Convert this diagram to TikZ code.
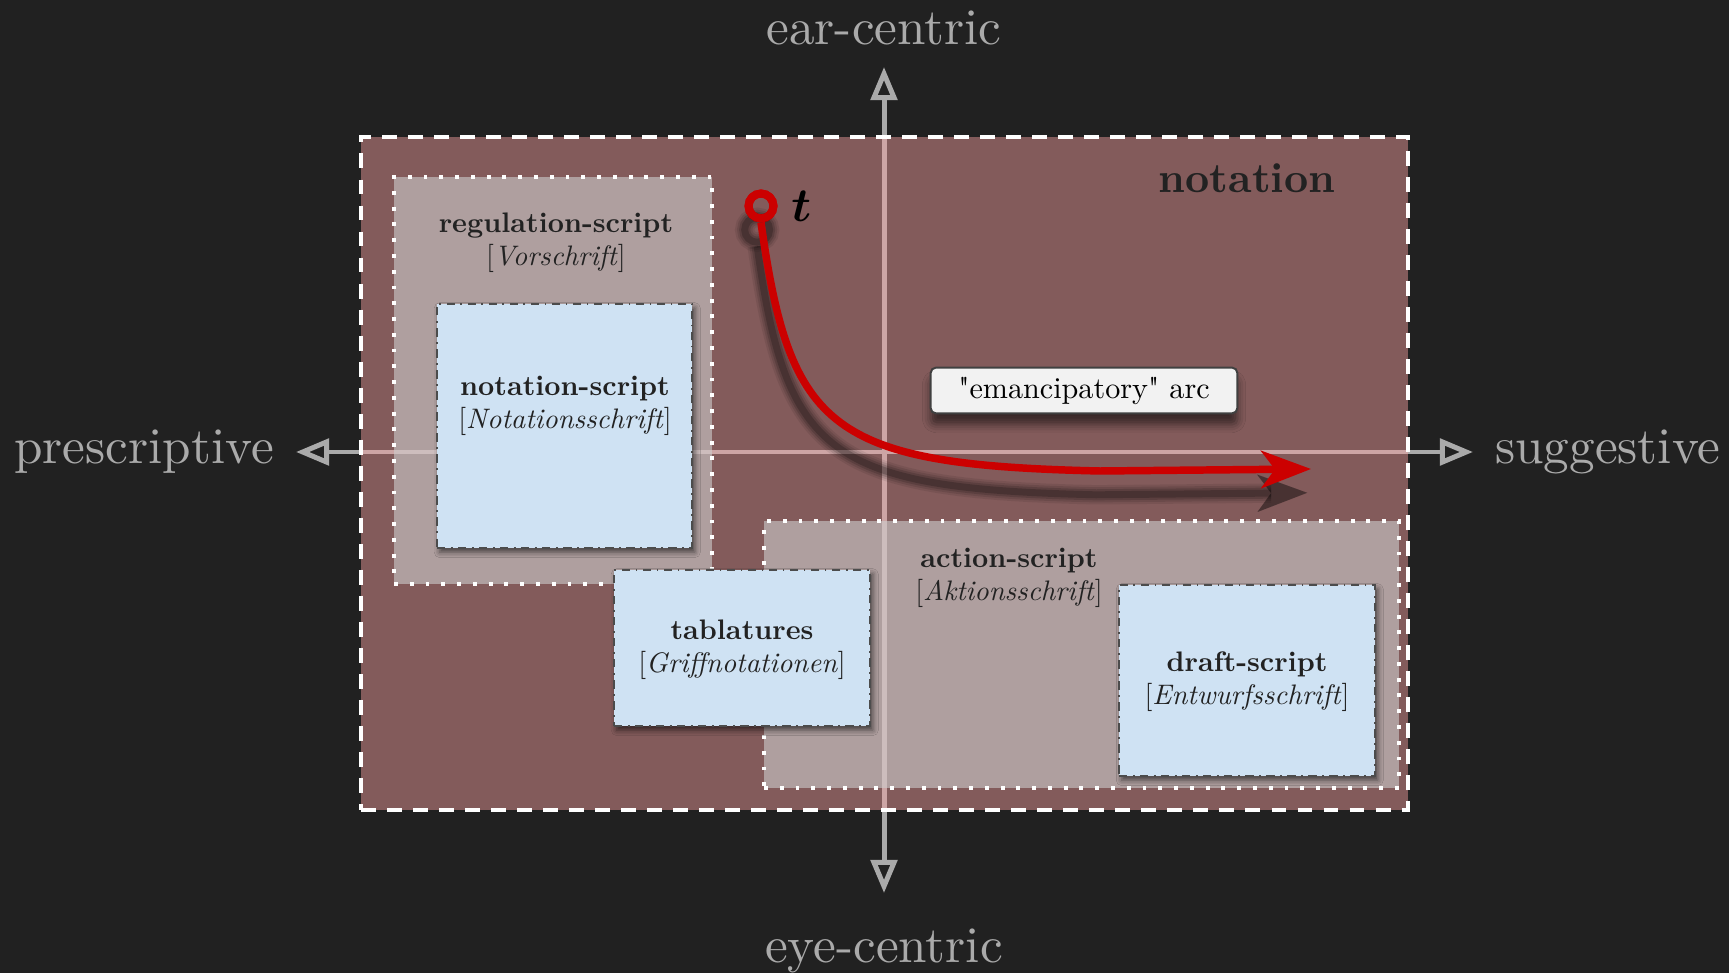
\documentclass[tikz,border=0pt]{standalone}
\usepackage{fontspec}
\usetikzlibrary{positioning}
\usetikzlibrary{arrows.meta}
\usetikzlibrary{fit}
\usetikzlibrary{shadows.blur}

\definecolor{bgdark}{RGB}{33,33,33}
\definecolor{axisgray}{RGB}{170,170,170}
\definecolor{notationfill}{RGB}{248,161,161}
\definecolor{scriptfill}{RGB}{205,205,205}
\definecolor{bluefill}{RGB}{207,226,243}
\definecolor{boxtext}{RGB}{34,34,34}
\definecolor{arcred}{RGB}{204,0,0}

\font\lmquote="[lmroman10-regular]" at 10.9pt
\newcommand{\straightquote}{{\lmquote\char34}}

\tikzset{
  axisline/.style={axisgray, line width=1.8pt,
    {Triangle[open,length=12pt,width=9.5pt]}-{Triangle[open,length=12pt,width=9.5pt]}},
  axislbl/.style={text=axisgray, font=\normalsize, scale=1.85, transform shape},
  notationbox/.style={fill=notationfill, fill opacity=0.46, draw=white,
    line width=1.1pt, dash pattern=on 5.4pt off 4pt, inner sep=0pt},
  scriptarea/.style={fill=scriptfill, fill opacity=0.6, draw=white,
    line width=1.4pt, dash pattern=on 1.4pt off 4.3pt, inner sep=0pt},
  scriptbox/.style={fill=bluefill, draw=black!70, line width=0.6pt, dashdotted,
    inner sep=0pt, blur shadow={shadow xshift=1pt, shadow yshift=-1.5pt,
    shadow blur radius=2pt, shadow opacity=60}},
  boxlbl/.style={text=boxtext, align=center, font=\fontsize{10.2}{12}\selectfont},
  arcbox/.style={fill=white!95!black, draw=black!75, line width=0.7pt,
    rounded corners=2pt, inner xsep=10pt, minimum height=15.5pt,
    font=\fontsize{10.9}{13}\selectfont,
    blur shadow={shadow xshift=0pt, shadow yshift=-4pt,
    shadow blur radius=3pt, shadow opacity=55}},
  ring/.style={circle, draw=arcred, line width=2.9pt, minimum size=9pt, inner sep=0pt},
  redarc/.style={arcred, line width=2.7pt, -{Stealth[length=18pt,width=13.5pt,inset=5pt]}},
  arcshadow/.style={black, transform canvas={xshift=-1.4pt, yshift=-8.6pt},
    -{Stealth[length=18pt,width=13.5pt,inset=5pt,line width=0pt]}}
}

\begin{document}
\begin{tikzpicture}[x=0.127mm, y=-0.127mm]
  \fill[bgdark] (0,0) rectangle (1729,973);
  \useasboundingbox (0,0) rectangle (1729,973);

  % axes
  \coordinate (prescTip) at (296,452);
  \coordinate (suggTip) at (1473,452);
  \coordinate (earTip) at (884,67);
  \coordinate (eyeTip) at (884,893);
  \draw[axisline] (prescTip) -- (suggTip);
  \draw[axisline] (eyeTip) -- (earTip);
  \node[axislbl, left=1.5pt of prescTip] (presc) {prescriptive};
  \node[axislbl, right=1.5pt of suggTip] (sugg) {suggestive};
  \node[axislbl, above=1.4pt of earTip] (ear) {ear-centric};
  \node[axislbl, below=6.6pt of eyeTip] (eye) {eye-centric};

  % areas
  \node[notationbox, fit={(361,137) (1408,810)}] (notation) {};
  \node[text=boxtext, font=\bfseries, scale=1.52, transform shape, anchor=base]
    (notationlbl) at (1247,193) {notation};
  \node[scriptarea, fit={(394,177) (712,584)}] (regulation) {};
  \node[scriptarea, fit={(764,521) (1399,788)}] (action) {};
  \node[boxlbl] (regulationlbl) at (556,243)
    {\textbf{regulation-script}\\{[}\textit{Vorschrift}{]}};
  \node[boxlbl] (actionlbl) at (1009,578)
    {\textbf{action-script}\\{[}\textit{Aktionsschrift}{]}};

  % scripts
  \node[scriptbox, fit={(437,304) (692,548)}] (notscript) {};
  \node[scriptbox, fit={(614,570) (870,726)}] (tablatures) {};
  \node[scriptbox, fit={(1119,585) (1375,776)}] (draft) {};
  \node[boxlbl] (notscriptlbl) at (565,406)
    {\textbf{notation-script}\\{[}\textit{Notationsschrift}{]}};
  \node[boxlbl] (tablatureslbl) at (742,650)
    {\textbf{tablatures}\\{[}\textit{Griffnotationen}{]}};
  \node[boxlbl] (draftlbl) at (1247,682)
    {\textbf{draft-script}\\{[}\textit{Entwurfsschrift}{]}};

  % emancipatory arc
  \node[ring] (t0) at (761,206) {};
  \node[right=1.5pt of t0, font=\fontsize{16}{19}\selectfont\boldmath] (tlbl) {$t$};
  \coordinate (arcend) at (1311,469);
  \foreach \w/\o in {7/0.08, 5.5/0.10, 4/0.14, 2.5/0.2} {
    \draw[arcshadow, line width=\w pt, draw opacity=\o, fill opacity=\o]
      (t0.south) .. controls (790,430) and (830,465) .. (1100,471) -- (arcend);
    \draw[arcshadow, line width=\w pt, draw opacity=\o, -] (t0.center) circle (4.5pt);
  }
  \node[ring] at (t0) {};
  \draw[redarc] (t0.south) .. controls (790,430) and (830,465) .. (1100,471) -- (arcend);
  \node[arcbox] (emancip) at (1084,390.5) {\straightquote emancipatory\straightquote{} arc};
\end{tikzpicture}
\end{document}
